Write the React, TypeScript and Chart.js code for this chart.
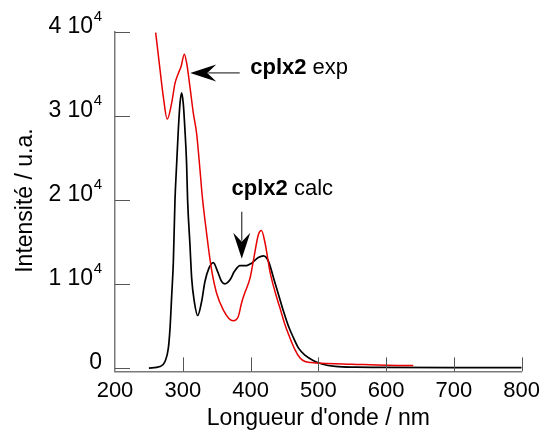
import React, { useEffect, useRef } from "react";
import { Chart, registerables } from "chart.js";

Chart.register(...registerables);

// Experimental spectrum (red)
const expWavelengths = [260, 266.5, 271.3, 277, 283.5, 288.5, 293.4, 297.4, 302.3, 305.8, 310.6, 315.6, 320.4, 325.4, 328.8, 332.7, 337.6, 342.5, 349.9, 359.7, 368, 374.5, 381.9, 386.9, 391.8, 399.2, 404, 411.4, 416, 421.3, 428.6, 436, 443.4, 450.8, 458.2, 465.6, 473, 480.3, 490, 505, 550, 600, 640];
const expIntensity = [39900, 35430, 32260, 29600, 31470, 33850, 35040, 35820, 37330, 36220, 33440, 30290, 27910, 23550, 20380, 17610, 14440, 11670, 8900, 6920, 5900, 5620, 6130, 7800, 9000, 10690, 12700, 15830, 16350, 14900, 11470, 9100, 7130, 5140, 3560, 2170, 1190, 780, 650, 560, 450, 330, 300];

// Calculated spectrum (black)
const calcWavelengths = [250, 266.4, 273.8, 278.7, 281.2, 283.7, 286.1, 288.5, 291, 293.4, 295.9, 298.3, 300.7, 303.2, 305.6, 307.1, 310.6, 313.1, 317, 322, 327.8, 332.7, 338.6, 345, 351.4, 357.3, 362.2, 369.7, 376, 384.4, 394.3, 401.6, 411.4, 419.2, 426.6, 434, 441.4, 448.7, 456.1, 463.5, 470.8, 480.7, 493, 505.3, 525, 555, 600, 700, 800];
const calcIntensity = [0, 190, 780, 2370, 4750, 8700, 12660, 19990, 24350, 28300, 31470, 32730, 31470, 28300, 24350, 19990, 14640, 10690, 7910, 6250, 7910, 10290, 11880, 12540, 11470, 10290, 10010, 10490, 11470, 12190, 12190, 12470, 13140, 13340, 12660, 10690, 8700, 6720, 4940, 3560, 2370, 1500, 870, 480, 190, 100, 80, 60, 50];

// Axes
const xTickValues = [200, 300, 400, 500, 600, 700, 800];
const xTickLabels = ["200", "300", "400", "500", "600", "700", "800"];
const yTickValues = [0, 10000, 20000, 30000, 40000];
const yTickMantissas = ["0", "1 10", "2 10", "3 10", "4 10"];
const yTickExponents = ["", "4", "4", "4", "4"];
const xTitle = "Longueur d'onde / nm";
const yTitle = "Intensité / u.a.";

// Annotations
const expLabelBold = "cplx2";
const expLabelRest = " exp";
const calcLabelBold = "cplx2";
const calcLabelRest = " calc";

const FONT = "'Liberation Sans', Arial, Helvetica, sans-serif";

function arrowHead(ctx: CanvasRenderingContext2D, tx: number, ty: number, dx: number, dy: number) {
  const px = -dy, py = dx;
  const L = 26, N = 17, W = 8.5;
  ctx.beginPath();
  ctx.moveTo(tx, ty);
  ctx.lineTo(tx - dx * L + px * W, ty - dy * L + py * W);
  ctx.lineTo(tx - dx * N, ty - dy * N);
  ctx.lineTo(tx - dx * L - px * W, ty - dy * L - py * W);
  ctx.closePath();
  ctx.fill();
}

const decorPlugin = {
  id: "decor",
  afterDraw(chart: any) {
    const { ctx, chartArea } = chart;
    const xs = chart.scales.x;
    const ys = chart.scales.y;
    const left = chartArea.left;
    const bottom = chartArea.bottom;
    ctx.save();

    // inward ticks
    ctx.strokeStyle = "#555";
    ctx.lineWidth = 1;
    yTickValues.forEach((v) => {
      const py = Math.round(ys.getPixelForValue(v)) + 0.5;
      ctx.beginPath();
      ctx.moveTo(left, py);
      ctx.lineTo(left + 15, py);
      ctx.stroke();
    });
    xTickValues.forEach((v, i) => {
      if (i === 0) return;
      const px = Math.round(xs.getPixelForValue(v)) + 0.5;
      ctx.beginPath();
      ctx.moveTo(px, bottom);
      ctx.lineTo(px, bottom - 14);
      ctx.stroke();
    });

    ctx.fillStyle = "#000";
    // x tick labels
    ctx.font = `22px ${FONT}`;
    ctx.textAlign = "center";
    ctx.textBaseline = "alphabetic";
    xTickValues.forEach((v, i) => {
      ctx.fillText(xTickLabels[i], xs.getPixelForValue(v), bottom + 25.5);
    });

    // y tick labels with superscript
    yTickValues.forEach((v, i) => {
      const py = ys.getPixelForValue(v);
      const right = left - 13;
      let mainRight = right;
      if (yTickExponents[i]) {
        ctx.font = `15px ${FONT}`;
        ctx.textAlign = "right";
        ctx.fillText(yTickExponents[i], right, py - 11);
        mainRight = right - ctx.measureText(yTickExponents[i]).width - 0.5;
      }
      ctx.font = `23px ${FONT}`;
      ctx.textAlign = "right";
      ctx.fillText(yTickMantissas[i], mainRight, py + 1);
    });

    // axis titles
    ctx.font = `23px ${FONT}`;
    ctx.textAlign = "center";
    ctx.fillText(xTitle, (chartArea.left + chartArea.right) / 2, bottom + 53.5);
    ctx.save();
    ctx.translate(left - 83, (chartArea.top + chartArea.bottom) / 2 - 1);
    ctx.rotate(-Math.PI / 2);
    ctx.fillText(yTitle, 0, 0);
    ctx.restore();

    // annotation: exp
    ctx.strokeStyle = "#333";
    ctx.fillStyle = "#000";
    ctx.lineWidth = 1.2;
    const eTipX = xs.getPixelForValue(311);
    const eTailX = xs.getPixelForValue(384);
    const eY = ys.getPixelForValue(35100);
    ctx.beginPath();
    ctx.moveTo(eTailX, eY);
    ctx.lineTo(eTipX + 18, eY);
    ctx.stroke();
    arrowHead(ctx, eTipX, eY, -1, 0);

    ctx.textAlign = "left";
    ctx.font = `bold 22px ${FONT}`;
    const etx = xs.getPixelForValue(399.5);
    const ety = ys.getPixelForValue(34950);
    ctx.fillText(expLabelBold, etx, ety);
    const bw1 = ctx.measureText(expLabelBold).width;
    ctx.font = `22px ${FONT}`;
    ctx.fillText(expLabelRest, etx + bw1, ety);

    // annotation: calc
    const cX = xs.getPixelForValue(387);
    const cTail = ys.getPixelForValue(18600);
    const cTip = ys.getPixelForValue(13000);
    ctx.beginPath();
    ctx.moveTo(cX, cTail);
    ctx.lineTo(cX, cTip - 18);
    ctx.stroke();
    arrowHead(ctx, cX, cTip, 0, 1);

    ctx.font = `bold 22px ${FONT}`;
    const ctxX = xs.getPixelForValue(372);
    const ctxY = ys.getPixelForValue(20550);
    ctx.fillText(calcLabelBold, ctxX, ctxY);
    const bw2 = ctx.measureText(calcLabelBold).width;
    ctx.font = `22px ${FONT}`;
    ctx.fillText(calcLabelRest, ctxX + bw2, ctxY);

    ctx.restore();
  },
};

export default function App() {
  const canvasRef = useRef<HTMLCanvasElement | null>(null);

  useEffect(() => {
    const canvas = canvasRef.current;
    if (!canvas) return;
    const expData = expWavelengths.map((x, i) => ({ x, y: expIntensity[i] }));
    const calcData = calcWavelengths.map((x, i) => ({ x, y: calcIntensity[i] }));
    const chart = new Chart(canvas, {
      type: "line",
      data: {
        datasets: [
          {
            label: "cplx2 exp",
            data: expData,
            borderColor: "rgb(230,0,0)",
            borderWidth: 1.5,
            pointRadius: 0,
            cubicInterpolationMode: "monotone",
            fill: false,
          },
          {
            label: "cplx2 calc",
            data: calcData,
            borderColor: "#000",
            borderWidth: 1.7,
            pointRadius: 0,
            cubicInterpolationMode: "monotone",
            fill: false,
          },
        ],
      },
      options: {
        animation: false,
        responsive: false,
        maintainAspectRatio: false,
        devicePixelRatio: 1,
        layout: { padding: { left: 115, top: 31.7, right: 23.3, bottom: 65.6 } },
        plugins: { legend: { display: false }, tooltip: { enabled: false } },
        scales: {
          x: {
            type: "linear",
            min: 200,
            max: 800,
            ticks: { display: false },
            grid: { display: false, drawTicks: false },
            border: { display: true, color: "#7a7a7a", width: 1.5 },
            afterFit: (s: any) => { s.height = 0; },
          },
          y: {
            type: "linear",
            min: -400,
            max: 40000,
            ticks: { display: false },
            grid: { display: false, drawTicks: false },
            border: { display: true, color: "#7a7a7a", width: 1.5 },
            afterFit: (s: any) => { s.width = 0; },
          },
        },
      },
      plugins: [decorPlugin],
    });
    return () => chart.destroy();
  }, []);

  return (
    <div style={{ position: "absolute", left: 0, top: 0, width: 545, height: 437, background: "#fff" }}>
      <canvas ref={canvasRef} width={545} height={437} style={{ width: 545, height: 437 }} />
    </div>
  );
}
